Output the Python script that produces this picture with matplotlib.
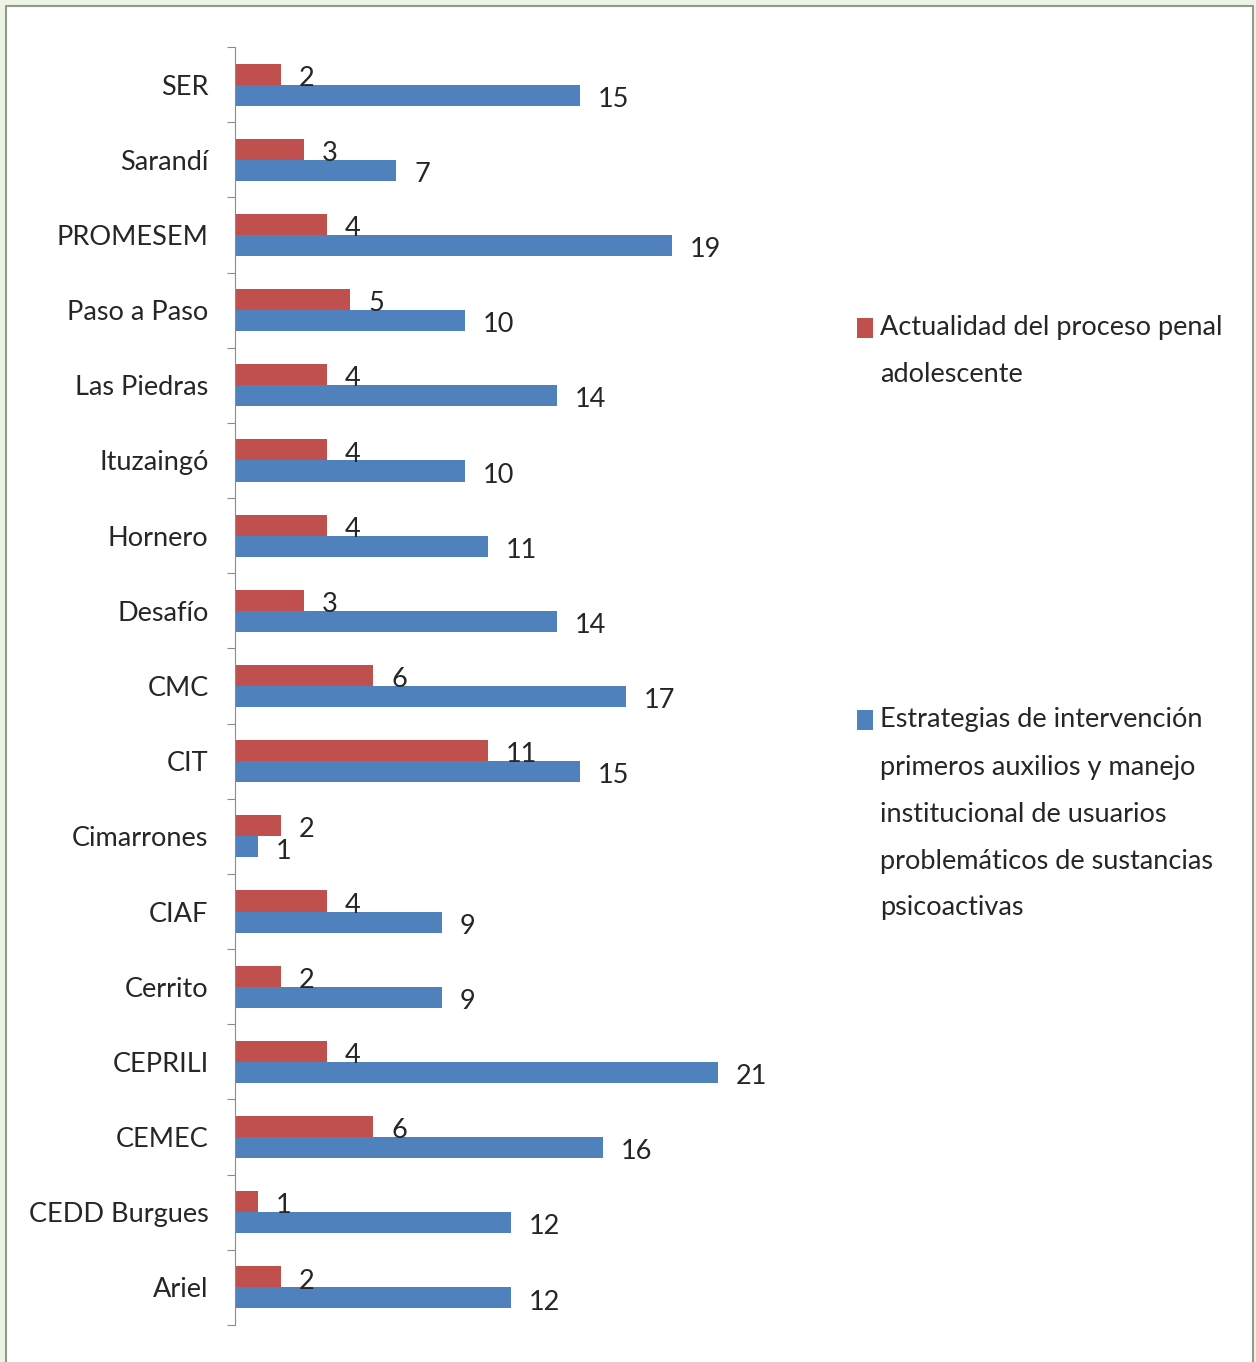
import matplotlib.pyplot as plt
from matplotlib.patches import Rectangle

# ===================== DATOS =====================
centros = ['SER', 'Sarandí', 'PROMESEM', 'Paso a Paso', 'Las Piedras', 'Ituzaingó',
           'Hornero', 'Desafío', 'CMC', 'CIT', 'Cimarrones', 'CIAF', 'Cerrito',
           'CEPRILI', 'CEMEC', 'CEDD Burgues', 'Ariel']
actualidad = [2, 3, 4, 5, 4, 4, 4, 3, 6, 11, 2, 4, 2, 4, 6, 1, 2]
estrategias = [15, 7, 19, 10, 14, 10, 11, 14, 17, 15, 1, 9, 9, 21, 16, 12, 12]

leyenda_roja = ['Actualidad del proceso penal', 'adolescente']
leyenda_azul = ['Estrategias de intervención', 'primeros auxilios y manejo',
                'institucional de usuarios', 'problemáticos de sustancias',
                'psicoactivas']

ROJO = '#C0504D'
AZUL = '#4F81BD'
TEXTO = '#262626'

plt.rcParams['font.family'] = ['Lato', 'DejaVu Sans']

W, H = 1256, 1362
fig = plt.figure(figsize=(W / 100, H / 100), dpi=100)
fig.patch.set_facecolor('#edf3e5')

# marco blanco
fig.patches.append(Rectangle((6 / W, -0.01), (1253 - 6) / W, 1 - 6 / H + 0.01,
                             transform=fig.transFigure, facecolor='white',
                             edgecolor='#8f9c86', linewidth=1.5, zorder=-5))

ax = fig.add_axes([235 / W, 1 - 1325 / H, 552 / W, 1278 / H])
ax.set_zorder(2)
ax.set_facecolor('none')

n = len(centros)
ys = [n - 1 - i for i in range(n)]
alto = 0.28

ax.barh([y + alto / 2 for y in ys], actualidad, height=alto, color=ROJO, zorder=2)
ax.barh([y - alto / 2 for y in ys], estrategias, height=alto, color=AZUL, zorder=2)

for y, v in zip(ys, actualidad):
    ax.annotate(str(v), (v, y + alto / 2), xytext=(13, -3), textcoords='offset points',
                va='center', ha='left', fontsize=19.5, color=TEXTO, zorder=3)
for y, v in zip(ys, estrategias):
    ax.annotate(str(v), (v, y - alto / 2), xytext=(13, -3), textcoords='offset points',
                va='center', ha='left', fontsize=19.5, color=TEXTO, zorder=3)

ax.set_xlim(0, 24)
ax.set_ylim(-0.5, n - 0.5)

# ticks en los limites de categoria, etiquetas en el centro
ax.set_yticks([k + 0.5 for k in range(-1, n)])
ax.set_yticklabels([])
ax.set_yticks(ys, minor=True)
ax.set_yticklabels(centros, minor=True, fontsize=19.5, color=TEXTO)
ax.tick_params(axis='y', which='major', length=6, color='#8c8c8c', direction='out')
ax.tick_params(axis='y', which='minor', length=0, pad=19)

ax.set_xticks([])
for lado in ['top', 'right', 'bottom']:
    ax.spines[lado].set_visible(False)
ax.spines['left'].set_color('#8c8c8c')

# ===================== LEYENDA =====================
def leyenda(color, lineas, y0):
    fig.patches.append(Rectangle((857 / W, 1 - (y0 + 10) / H), 16 / W, 20 / H,
                                 transform=fig.transFigure, facecolor=color,
                                 edgecolor='none'))
    for k, linea in enumerate(lineas):
        fig.text(880 / W, 1 - (y0 + 47 * k) / H, linea, fontsize=19.5,
                 color=TEXTO, va='center', ha='left')

leyenda(ROJO, leyenda_roja, 328)
leyenda(AZUL, leyenda_azul, 720)

fig.savefig('out.png', dpi=100, facecolor=fig.get_facecolor())
